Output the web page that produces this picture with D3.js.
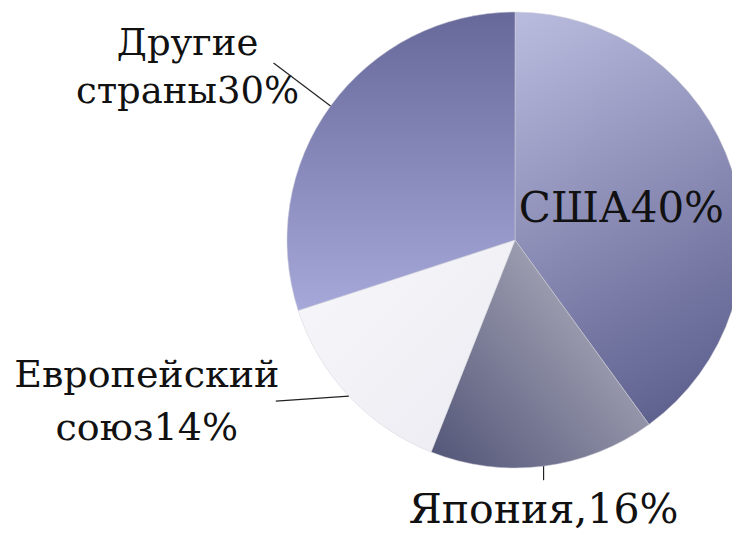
<!DOCTYPE html>
<html>
<head>
<meta charset="utf-8">
<script src="https://cdn.jsdelivr.net/npm/d3@7"></script>
<style>
  body { margin: 0; background: #fff; }
  svg { display: block; }
  text { font-family: "DejaVu Serif", "Liberation Serif", serif; fill: #111; }
</style>
</head>
<body>
<script>
// доли стран
var countries = ["США", "Япония", "Европейский союз", "Другие страны"];
var shares = [40, 16, 14, 30];
var labels = [["США40%"], ["Япония,16%"], ["Европейский", "союз14%"], ["Другие", "страны30%"]];

var width = 732, height = 533;
var cx = 515, cy = 240, radius = 228;

var svg = d3.select("body").append("svg")
    .attr("width", width)
    .attr("height", height);

var defs = svg.append("defs");

// градиенты для секторов (координаты от центра круга)
var grads = [
    {id: "g0", x1: 5, y1: -220, x2: 210, y2: 170, c1: "#b8badd", c2: "#5a5c8b"},
    {id: "g1", x1: -70, y1: 225, x2: 100, y2: 75, c1: "#56587a", c2: "#a3a4b5"},
    {id: "g2", x1: -200, y1: 70, x2: -60, y2: 210, c1: "#f4f4f9", c2: "#ededf3"},
    {id: "g3", x1: -110, y1: -225, x2: -110, y2: 70, c1: "#67699b", c2: "#a6a8d9"}
];
grads.forEach(function(g) {
    var lg = defs.append("linearGradient")
        .attr("id", g.id)
        .attr("gradientUnits", "userSpaceOnUse")
        .attr("x1", g.x1).attr("y1", g.y1)
        .attr("x2", g.x2).attr("y2", g.y2);
    lg.append("stop").attr("offset", "0%").attr("stop-color", g.c1);
    lg.append("stop").attr("offset", "100%").attr("stop-color", g.c2);
});

var pie = d3.pie().sort(null).value(function(d) { return d; });
var arcs = pie(shares);

var arc = d3.arc().innerRadius(0).outerRadius(radius);

var g = svg.append("g")
    .attr("transform", "translate(" + cx + "," + cy + ")");

g.selectAll("path")
    .data(arcs)
    .enter()
    .append("path")
    .attr("d", arc)
    .attr("fill", function(d, i) { return "url(#g" + i + ")"; })
    .attr("stroke", "#d0d0d8")
    .attr("stroke-width", 0.5);

// точка на окружности по углу
function edge(a, r) {
    return [Math.sin(a) * r, -Math.cos(a) * r];
}
function mid(d) { return (d.startAngle + d.endAngle) / 2; }

// выноски
var p;
// Япония
p = edge(mid(arcs[1]), radius);
g.append("line")
    .attr("x1", p[0]).attr("y1", p[1])
    .attr("x2", p[0]).attr("y2", p[1] + 14)
    .attr("stroke", "#222").attr("stroke-width", 1.2);
// ЕС
p = edge(mid(arcs[2]), radius);
g.append("polyline")
    .attr("points", [[p[0], p[1]], [p[0] - 73, p[1] + 5]].join(" "))
    .attr("fill", "none")
    .attr("stroke", "#222").attr("stroke-width", 1.2);
// Другие
p = edge(mid(arcs[3]), radius);
g.append("line")
    .attr("x1", p[0]).attr("y1", p[1])
    .attr("x2", p[0] - 57).attr("y2", p[1] - 43)
    .attr("stroke", "#222").attr("stroke-width", 1.2);

// подписи
var c = arc.centroid(arcs[0]);
g.append("text")
    .attr("x", c[0] - 2)
    .attr("y", c[1] + 17)
    .attr("text-anchor", "middle")
    .style("font-size", "42px")
    .text(labels[0][0]);

p = edge(mid(arcs[1]), radius);
g.append("text")
    .attr("x", p[0])
    .attr("y", p[1] + 57)
    .attr("text-anchor", "middle")
    .style("font-size", "41px")
    .text(labels[1][0]);

p = edge(mid(arcs[2]), radius);
var t2 = g.append("text")
    .attr("text-anchor", "middle")
    .style("font-size", "38px");
labels[2].forEach(function(s, k) {
    t2.append("tspan")
        .attr("x", p[0] - 202)
        .attr("y", p[1] - 9 + k * 53)
        .text(s);
});

p = edge(mid(arcs[3]), radius);
var t3 = g.append("text")
    .attr("text-anchor", "middle")
    .style("font-size", "37px");
labels[3].forEach(function(s, k) {
    t3.append("tspan")
        .attr("x", p[0] - 143)
        .attr("y", p[1] - 51 + k * 48)
        .text(s);
});
</script>
</body>
</html>
